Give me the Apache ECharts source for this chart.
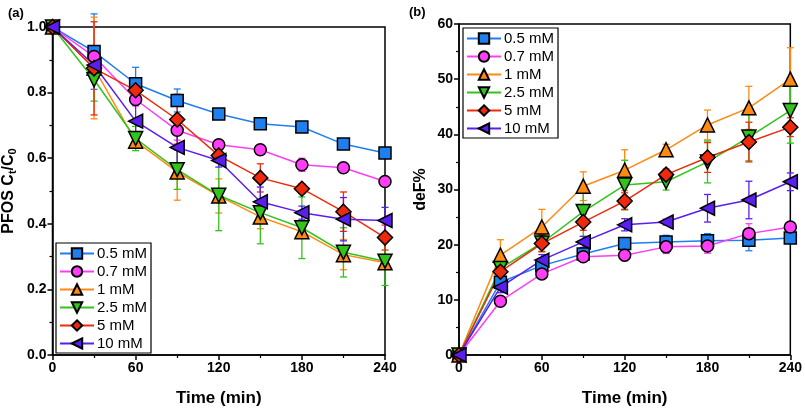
<!DOCTYPE html>
<html>
<head>
<meta charset="utf-8">
<script src="https://cdn.jsdelivr.net/npm/echarts@6/dist/echarts.min.js"></script>
<style>
html,body{margin:0;padding:0;background:#fff;}
#main{width:805px;height:412px;}
</style>
</head>
<body>
<div id="main"></div>
<script>
// time points (min)
var times = [0, 30, 60, 90, 120, 150, 180, 210, 240];
var names = ['0.5 mM', '0.7 mM', '1 mM', '2.5 mM', '5 mM', '10 mM'];
var colors = ['#1f7fef', '#ff3cf6', '#ff8a12', '#31c41a', '#ef2a0c', '#5a1ff0'];
var symbols = ['rect', 'circle', 'triangle', 'triangle', 'diamond', 'triangle'];
var rotates = [0, 0, 0, 180, 0, 90];

// (a) PFOS Ct/C0
var a05 = [1.0, 0.925, 0.827, 0.776, 0.735, 0.705, 0.695, 0.643, 0.616];
var a07 = [1.0, 0.91, 0.779, 0.685, 0.641, 0.626, 0.58, 0.571, 0.529];
var a1 = [1.0, 0.875, 0.652, 0.558, 0.485, 0.421, 0.376, 0.306, 0.281];
var a25 = [1.0, 0.839, 0.66, 0.565, 0.487, 0.434, 0.388, 0.313, 0.286];
var a5 = [1.0, 0.874, 0.807, 0.718, 0.608, 0.54, 0.507, 0.437, 0.358];
var a10 = [1.0, 0.884, 0.713, 0.633, 0.593, 0.467, 0.434, 0.414, 0.41];
// (a) error half-widths
var ea05 = [0, 0.115, 0.05, 0.035, 0.01, 0.01, 0.01, 0.01, 0.01];
var ea07 = [0, 0.02, 0.02, 0.03, 0.01, 0.01, 0.02, 0.015, 0.015];
var ea1 = [0, 0.155, 0.02, 0.086, 0.052, 0.036, 0.02, 0.046, 0.01];
var ea25 = [0, 0.065, 0.037, 0.06, 0.108, 0.095, 0.094, 0.075, 0.074];
var ea5 = [0, 0.142, 0.035, 0.077, 0.015, 0.043, 0.015, 0.06, 0.038];
var ea10 = [0, 0.02, 0.05, 0.08, 0.02, 0.045, 0.02, 0.066, 0.04];

// (b) deF%
var b05 = [0, 13.2, 16.2, 18.3, 20.2, 20.5, 20.7, 20.8, 21.2];
var b07 = [0, 9.75, 14.7, 17.8, 18.1, 19.6, 19.75, 22.0, 23.2];
var b1 = [0, 18.1, 23.2, 30.6, 33.5, 37.2, 41.7, 44.8, 50.0];
var b25 = [0, 15.7, 20.3, 26.0, 30.8, 31.4, 35.0, 39.5, 44.3];
var b5 = [0, 15.1, 20.2, 24.1, 27.9, 32.7, 35.8, 38.6, 41.3];
var b10 = [0, 12.3, 17.2, 20.5, 23.6, 24.1, 26.6, 28.1, 31.4];
// (b) error half-widths
var eb05 = [0, 1, 1, 0.7, 1, 1.2, 1.3, 1.9, 0.5];
var eb07 = [0, 0.5, 0.8, 0.6, 1, 1.2, 1.3, 1.8, 0.5];
var eb1 = [0, 2.8, 3.2, 2.6, 3.7, 1.0, 2.7, 3.9, 5.7];
var eb25 = [0, 1, 1.5, 4.5, 4.5, 1.5, 3.8, 4.3, 5.9];
var eb5 = [0, 1.5, 1.5, 1.5, 1.5, 1, 2.7, 3.6, 1.7];
var eb10 = [0, 1, 1, 1, 1.1, 0.5, 2.5, 3.4, 1.6];

var dataA = [a05, a07, a1, a25, a5, a10];
var errA = [ea05, ea07, ea1, ea25, ea5, ea10];
var dataB = [b05, b07, b1, b25, b5, b10];
var errB = [eb05, eb07, eb1, eb25, eb5, eb10];

var chart = echarts.init(document.getElementById('main'));
var FONT = 'Liberation Sans';

function xAxisOpt(idx) {
	return {
		type: 'value', gridIndex: idx, min: 0, max: 240, interval: 60,
		name: 'Time (min)', nameLocation: 'middle', nameGap: 35,
		nameTextStyle: {fontFamily: FONT, fontWeight: 'bold', fontSize: 17, color: '#000'},
		axisLine: {lineStyle: {color: '#000', width: 1.5}},
		axisTick: {inside: false, length: 5, lineStyle: {color: '#000', width: 1.5}},
		minorTick: {show: true, splitNumber: 2, length: 3, lineStyle: {color: '#000', width: 1.2}},
		axisLabel: {fontFamily: FONT, fontWeight: 'bold', fontSize: 14, color: '#000', margin: 6},
		splitLine: {show: false}
	};
}
function yAxisOpt(idx, max, interval, fmt, name, gap) {
	return {
		type: 'value', gridIndex: idx, min: 0, max: max, interval: interval,
		name: name, nameLocation: 'middle', nameGap: gap, nameRotate: 90,
		nameTextStyle: {
			fontFamily: FONT, fontWeight: 'bold', fontSize: 16, color: '#000',
			rich: {
				b: {fontFamily: FONT, fontWeight: 'bold', fontSize: 16, color: '#000'},
				s: {fontFamily: FONT, fontWeight: 'bold', fontSize: 11, color: '#000', verticalAlign: 'bottom', padding: [8, 0, 0, 0]}
			}
		},
		axisLine: {lineStyle: {color: '#000', width: 1.5}},
		axisTick: {inside: false, length: 5, lineStyle: {color: '#000', width: 1.5}},
		minorTick: {show: true, splitNumber: 2, length: 3, lineStyle: {color: '#000', width: 1.2}},
		axisLabel: {fontFamily: FONT, fontWeight: 'bold', fontSize: 14, color: '#000', margin: 6, formatter: fmt},
		splitLine: {show: false}
	};
}

function errSeries(gi, vals, errs, color) {
	var pts = [];
	for (var i = 0; i < times.length; i++) {
		if (errs[i] > 0) pts.push([times[i], vals[i] - errs[i], vals[i] + errs[i]]);
	}
	return {
		type: 'custom', xAxisIndex: gi, yAxisIndex: gi, z: 2, silent: true,
		data: pts,
		renderItem: function (params, api) {
			var lo = api.coord([api.value(0), api.value(1)]);
			var hi = api.coord([api.value(0), api.value(2)]);
			var w = 3.5;
			var st = {stroke: color, lineWidth: 1.3};
			return {
				type: 'group',
				children: [
					{type: 'line', shape: {x1: lo[0], y1: lo[1], x2: hi[0], y2: hi[1]}, style: st},
					{type: 'line', shape: {x1: lo[0] - w, y1: lo[1], x2: lo[0] + w, y2: lo[1]}, style: st},
					{type: 'line', shape: {x1: hi[0] - w, y1: hi[1], x2: hi[0] + w, y2: hi[1]}, style: st}
				]
			};
		}
	};
}

function lineSeries(gi, k, vals) {
	var pts = [];
	for (var i = 0; i < times.length; i++) pts.push([times[i], vals[i]]);
	var size = symbols[k] == 'triangle' ? 14 : (symbols[k] == 'diamond' ? 15 : 12);
	return {
		type: 'line', name: names[k], xAxisIndex: gi, yAxisIndex: gi, z: 3,
		data: pts, symbol: symbols[k], symbolSize: size, symbolRotate: rotates[k],
		lineStyle: {color: colors[k], width: 1.5},
		itemStyle: {color: colors[k], borderColor: '#000', borderWidth: 1.5},
		emphasis: {disabled: true},
		animation: false
	};
}

var series = [];
for (var k = 0; k < 6; k++) {
	series.push(errSeries(0, dataA[k], errA[k], colors[k]));
	series.push(errSeries(1, dataB[k], errB[k], colors[k]));
}
for (var k = 0; k < 6; k++) {
	series.push(lineSeries(0, k, dataA[k]));
	series.push(lineSeries(1, k, dataB[k]));
}

function legendOpt(left, top) {
	return {
		data: names, orient: 'vertical', left: left, top: top,
		itemWidth: 34, itemHeight: 13, itemGap: 3,
		padding: [3, 4, 2, 3], borderColor: '#000', borderWidth: 1.2,
		textStyle: {fontFamily: FONT, fontSize: 15, lineHeight: 13, color: '#000', padding: [0, 0, 0, -2]},
		selectedMode: false
	};
}

chart.setOption({
	animation: false,
	backgroundColor: '#fff',
	title: [
		{text: '(a)', left: 3, top: 2, textStyle: {fontFamily: FONT, fontWeight: 'bold', fontSize: 13, color: '#000'}},
		{text: '(b)', left: 404, top: 1, textStyle: {fontFamily: FONT, fontWeight: 'bold', fontSize: 13, color: '#000'}}
	],
	grid: [
		{left: 52, right: 420, top: 27, bottom: 54, show: true, borderColor: '#000', borderWidth: 1.5},
		{left: 459, right: 13, top: 24, bottom: 54, show: true, borderColor: '#000', borderWidth: 1.5}
	],
	legend: [legendOpt(56, 243), legendOpt(463, 28)],
	xAxis: [xAxisOpt(0), xAxisOpt(1)],
	yAxis: [
		yAxisOpt(0, 1, 0.2, function (v) { return v.toFixed(1); }, '{b|PFOS C}{s|t}{b|/C}{s|0}', 34),
		yAxisOpt(1, 60, 10, function (v) { return v; }, 'deF%', 30)
	],
	series: series
});
</script>
</body>
</html>
